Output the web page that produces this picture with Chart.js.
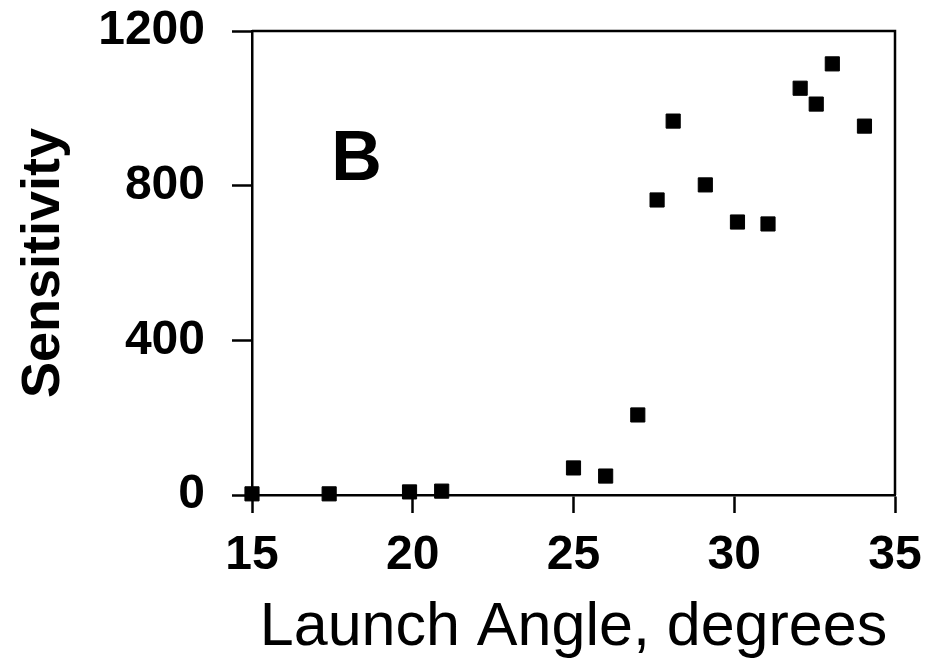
<!DOCTYPE html>
<html>
<head>
<meta charset="utf-8">
<script src="https://cdn.jsdelivr.net/npm/chart.js@4"></script>
<style>
  html, body { margin: 0; padding: 0; background: #fff; }
  #wrap { width: 925px; height: 667px; }
</style>
</head>
<body>
<div id="wrap"><canvas id="chart" width="925" height="667"></canvas></div>
<script>
// launch angle (deg) vs sensitivity
const angles = [15, 17.4, 19.9, 20.9, 25.0, 26.0, 27.0, 27.6, 28.1, 29.1, 30.1, 31.05, 32.05, 32.55, 33.05, 34.05];
const sensitivity = [3, 3, 8, 10, 70, 49, 207, 763, 967, 802, 706, 701, 1052, 1011, 1115, 954];

const xTicks = [15, 20, 25, 30, 35];
const yTicks = [0, 400, 800, 1200];

const panelLabel = 'B';
const FONT = '"Liberation Sans", Arial, sans-serif';

// box round the plot (only left/bottom come from the axes)
const framePlugin = {
  id: 'frame',
  beforeDatasetsDraw(chart) {
    const { ctx, chartArea: a } = chart;
    ctx.save();
    ctx.strokeStyle = '#000';
    ctx.lineWidth = 2.5;
    ctx.beginPath();
    ctx.moveTo(a.left, a.top);
    ctx.lineTo(a.right, a.top);
    ctx.lineTo(a.right, a.bottom);
    ctx.stroke();
    ctx.restore();
  },
  afterDatasetsDraw(chart) {
    // panel letter, placed in data coordinates
    const { ctx, scales } = chart;
    ctx.save();
    ctx.fillStyle = '#000';
    ctx.font = 'bold 70px ' + FONT;
    ctx.textAlign = 'center';
    ctx.textBaseline = 'middle';
    ctx.fillText(panelLabel, scales.x.getPixelForValue(18.25), scales.y.getPixelForValue(865));
    ctx.restore();
  }
};

// no extra room for labels that hang past the plot edges
function noPad(s) {
  s.paddingTop = 0;
  s.paddingBottom = 0;
  s.paddingLeft = 0;
  s.paddingRight = 0;
}

new Chart(document.getElementById('chart'), {
  type: 'scatter',
  data: {
    datasets: [{
      label: 'Sensitivity',
      data: angles.map((a, i) => ({ x: a, y: sensitivity[i] })),
      pointStyle: 'rect',
      pointRadius: 10,
      pointHoverRadius: 10,
      backgroundColor: '#000',
      borderColor: '#000',
      borderWidth: 1,
      clip: false
    }]
  },
  options: {
    responsive: false,
    animation: false,
    layout: { padding: { top: 31, right: 30, left: 0, bottom: 0 } },
    plugins: {
      legend: { display: false },
      tooltip: { enabled: false }
    },
    scales: {
      x: {
        type: 'linear',
        min: 15,
        max: 35,
        afterBuildTicks: (s) => { s.ticks = xTicks.map(v => ({ value: v })); },
        afterFit: (s) => { s.height = 172; noPad(s); },
        grid: { drawOnChartArea: false, drawTicks: true, tickLength: 18, tickWidth: 2.5, tickColor: '#000' },
        border: { display: true, color: '#000', width: 2.5 },
        ticks: {
          color: '#000',
          padding: 14,
          maxRotation: 0,
          callback: (v) => String(v),
          font: { family: FONT, size: 48, weight: 'bold' }
        },
        title: {
          display: true,
          text: 'Launch Angle, degrees',
          color: '#000',
          font: { family: FONT, size: 61, lineHeight: 1 },
          padding: { top: 0, bottom: 8 }
        }
      },
      y: {
        type: 'linear',
        min: 0,
        max: 1200,
        afterBuildTicks: (s) => { s.ticks = yTicks.map(v => ({ value: v })); },
        afterFit: (s) => { s.width = 252; noPad(s); },
        grid: { drawOnChartArea: false, drawTicks: true, tickLength: 20, tickWidth: 2.5, tickColor: '#000' },
        border: { display: true, color: '#000', width: 2.5 },
        ticks: {
          color: '#000',
          padding: 27,
          callback: (v) => String(v),
          font: { family: FONT, size: 48, weight: 'bold' }
        },
        title: {
          display: true,
          text: 'Sensitivity',
          color: '#000',
          font: { family: FONT, size: 54, weight: 'bold', lineHeight: 1 },
          padding: { top: 17, bottom: 0 }
        }
      }
    }
  },
  plugins: [framePlugin]
});
</script>
</body>
</html>
